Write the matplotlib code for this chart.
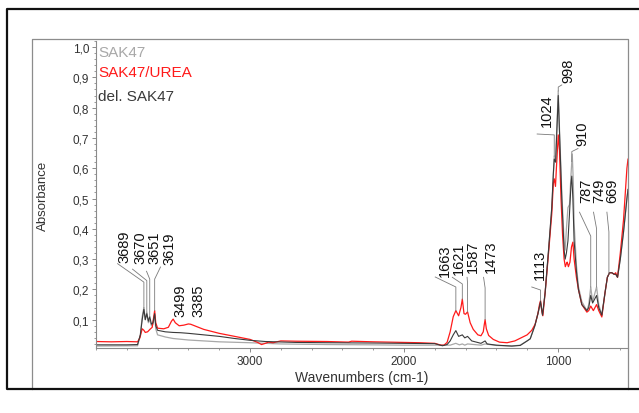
import numpy as np
import matplotlib
matplotlib.use('Agg')
import matplotlib.pyplot as plt
from matplotlib.lines import Line2D
from matplotlib.ticker import MultipleLocator, FuncFormatter

plt.rcParams['font.family'] = ['Liberation Sans', 'DejaVu Sans']

#### DATA ####
# SAK47 (light grey)
sak_wn = [4000, 3730, 3712, 3700, 3689, 3680, 3670, 3660, 3651, 3640, 3630, 3619, 3612,
          3600, 3550, 3500, 3400, 3300, 3200, 3000, 2800, 2500, 2200, 2000, 1800, 1700,
          1663, 1640, 1621, 1605, 1587, 1500, 1473, 1400, 1300, 1245, 1200, 1180, 1150,
          1130, 1113, 1100, 1083, 1061, 1040, 1030, 1024, 1015, 998, 990, 975, 960, 953,
          945, 935, 925, 915, 907, 900, 895, 880, 867, 845, 812, 800, 787, 775, 749, 735,
          715, 694, 679, 665, 650, 635, 625, 613, 595, 574, 552, 545]
sak_abs = [0.013, 0.014, 0.05, 0.11, 0.14, 0.10, 0.125, 0.09, 0.10, 0.08, 0.085, 0.115, 0.07,
           0.05, 0.043, 0.038, 0.033, 0.03, 0.027, 0.024, 0.02, 0.018, 0.017, 0.016, 0.016, 0.016,
           0.022, 0.017, 0.02, 0.016, 0.02, 0.016, 0.02, 0.015, 0.013, 0.016, 0.03, 0.037, 0.08,
           0.12, 0.155, 0.115, 0.19, 0.33, 0.47, 0.58, 0.64, 0.63, 0.855, 0.73, 0.52, 0.36, 0.33,
           0.40, 0.47, 0.48, 0.58, 0.647, 0.55, 0.42, 0.28, 0.21, 0.16, 0.13, 0.15, 0.208, 0.16,
           0.208, 0.15, 0.115, 0.19, 0.24, 0.255, 0.255, 0.25, 0.25, 0.24, 0.30, 0.39, 0.50, 0.53]

# SAK47/UREA (red)
urea_wn = [4000, 3900, 3800, 3730, 3715, 3700, 3689, 3680, 3665, 3650, 3635, 3625, 3619, 3612,
           3600, 3560, 3530, 3510, 3499, 3485, 3460, 3430, 3400, 3385, 3350, 3300, 3200, 3100,
           3000, 2950, 2925, 2900, 2880, 2850, 2800, 2700, 2500, 2360, 2340, 2200, 2000, 1900,
           1800, 1760, 1740, 1720, 1700, 1680, 1663, 1645, 1630, 1621, 1610, 1600, 1587, 1570,
           1550, 1520, 1500, 1485, 1478, 1473, 1465, 1450, 1420, 1380, 1330, 1280, 1240, 1200,
           1170, 1148, 1130, 1120, 1113, 1105, 1098, 1083, 1061, 1040, 1030, 1024, 1016, 1010,
           998, 990, 980, 970, 960, 952, 945, 940, 932, 922, 912, 903, 895, 880, 867, 845, 812,
           800, 787, 770, 749, 735, 715, 694, 679, 665, 650, 635, 625, 613, 595, 574, 552, 545]
urea_abs = [0.028, 0.027, 0.028, 0.027, 0.04, 0.07, 0.065, 0.058, 0.06, 0.068, 0.075, 0.11, 0.13, 0.09,
            0.072, 0.07, 0.075, 0.095, 0.102, 0.09, 0.08, 0.082, 0.086, 0.085, 0.078, 0.068, 0.055, 0.045,
            0.035, 0.025, 0.018, 0.022, 0.026, 0.024, 0.030, 0.029, 0.028, 0.026, 0.029, 0.027, 0.025, 0.024,
            0.022, 0.016, 0.016, 0.025, 0.06, 0.11, 0.13, 0.113, 0.14, 0.168, 0.12, 0.118, 0.126, 0.09,
            0.068, 0.05, 0.047, 0.06, 0.085, 0.10, 0.07, 0.048, 0.035, 0.026, 0.024, 0.03, 0.04, 0.05,
            0.065, 0.085, 0.12, 0.15, 0.163, 0.13, 0.113, 0.19, 0.32, 0.45, 0.55, 0.565, 0.54, 0.60,
            0.71, 0.66, 0.50, 0.38, 0.30, 0.275, 0.285, 0.29, 0.275, 0.29, 0.34, 0.356, 0.30, 0.24, 0.20, 0.15, 0.125,
            0.13, 0.145, 0.13, 0.15, 0.13, 0.109, 0.19, 0.24, 0.255, 0.255, 0.25, 0.255, 0.24, 0.32, 0.43, 0.60, 0.63]

# del. SAK47 (dark grey)
del_wn = [4000, 3800, 3730, 3712, 3700, 3689, 3680, 3670, 3660, 3651, 3640, 3630, 3619, 3612,
          3600, 3550, 3500, 3450, 3400, 3300, 3200, 3100, 3000, 2900, 2700, 2500, 2200, 2000,
          1800, 1750, 1720, 1700, 1680, 1663, 1645, 1621, 1605, 1587, 1560, 1500, 1473, 1460,
          1400, 1300, 1245, 1200, 1180, 1150, 1130, 1113, 1100, 1083, 1061, 1040, 1030, 1024,
          1015, 998, 990, 975, 960, 953, 945, 935, 925, 915, 910, 903, 895, 880, 867, 845, 812,
          800, 787, 775, 749, 735, 715, 694, 679, 665, 650, 635, 625, 613, 595, 574, 552, 545]
del_abs = [0.017, 0.017, 0.018, 0.05, 0.10, 0.135, 0.10, 0.12, 0.095, 0.11, 0.085, 0.09, 0.12, 0.08,
           0.065, 0.06, 0.058, 0.057, 0.055, 0.05, 0.045, 0.038, 0.032, 0.028, 0.025, 0.024, 0.023, 0.022,
           0.021, 0.014, 0.018, 0.03, 0.05, 0.064, 0.045, 0.05, 0.04, 0.045, 0.03, 0.022, 0.03, 0.02,
           0.016, 0.013, 0.015, 0.03, 0.037, 0.08, 0.12, 0.16, 0.115, 0.19, 0.33, 0.47, 0.58, 0.63,
           0.62, 0.84, 0.72, 0.50, 0.33, 0.30, 0.32, 0.36, 0.45, 0.55, 0.574, 0.50, 0.36, 0.26, 0.20, 0.15, 0.13,
           0.14, 0.18, 0.155, 0.18, 0.14, 0.115, 0.19, 0.24, 0.255, 0.255, 0.25, 0.25, 0.24, 0.30, 0.39, 0.50, 0.53]

# peak labels
peak_labels = ['3689', '3670', '3651', '3619', '3499', '3385', '1663', '1621', '1587', '1473',
               '1113', '1024', '998', '910', '787', '749', '669']

#### LAYOUT ####
label_x = [3812, 3711, 3620, 3523, 3454, 3335, 1735, 1643, 1550, 1435,
           1118, 1074, 935, 840, 818, 730, 645]
label_y = [0.29, 0.287, 0.287, 0.284, 0.112, 0.112, 0.244, 0.251, 0.257, 0.257,
           0.234, 0.74, 0.885, 0.677, 0.49, 0.49, 0.49]
# leader line: start x, start y, elbow y
leaders = {
    '3689': (3860, 0.285, 0.224),
    '3670': (3763, 0.267, 0.229),
    '3651': (3672, 0.26, 0.234),
    '3619': (3581, 0.274, 0.234),
    '1663': (1797, 0.241, 0.208),
    '1621': (1686, 0.24, 0.218),
    '1587': (1590, 0.24, 0.22),
    '1473': (1483, 0.24, 0.205),
    '1113': (1170, 0.208, 0.198),
    '1024': (1135, 0.713, 0.71),
    '998': (975, 0.875, 0.868),
    '910': (870, 0.665, 0.655),
    '787': (860, 0.455, 0.376),
    '749': (769, 0.455, 0.40),
    '669': (682, 0.455, 0.39),
}

W, H = 639, 414
fig = plt.figure(figsize=(W / 100, H / 100), dpi=100)
ax = fig.add_axes([96 / W, 1 - 349 / H, 532 / W, 307 / H])

c_sak = '#a8a8a8'
c_urea = '#ff1a1a'
c_del = '#3a3a3a'
ax.plot(sak_wn, sak_abs, color=c_sak, lw=0.9)
ax.plot(urea_wn, urea_abs, color=c_urea, lw=0.9)
ax.plot(del_wn, del_abs, color=c_del, lw=0.8)

ax.set_xlim(4000, 545)
ax.set_ylim(0.0066, 1.02)


def top_at(w):
    vals = []
    for xs, ys in [(sak_wn, sak_abs), (urea_wn, urea_abs), (del_wn, del_abs)]:
        vals.append(np.interp(w, xs[::-1], ys[::-1]))
    return max(vals)


for lab, lx, ly in zip(peak_labels, label_x, label_y):
    ax.text(lx, ly, lab, rotation=90, ha='center', va='bottom', fontsize=10.5, color='#111111')
    if lab in leaders:
        sx, sy, ey = leaders[lab]
        pw = float(lab)
        ax.plot([sx, pw, pw], [sy, ey, top_at(pw)], color='#7a7a7a', lw=0.6)

# legend texts
ax.text(0.004, 0.964, 'SAK47', transform=ax.transAxes, color=c_sak, fontsize=11, va='center')
ax.text(0.004, 0.899, 'SAK47/UREA', transform=ax.transAxes, color=c_urea, fontsize=11, va='center')
ax.text(0.004, 0.821, 'del. SAK47', transform=ax.transAxes, color=c_del, fontsize=11, va='center')

# axes styling
for s in ['top', 'right']:
    ax.spines[s].set_visible(False)
for s in ['left', 'bottom']:
    ax.spines[s].set_color('#8a8a8a')
    ax.spines[s].set_linewidth(0.8)
ax.set_xticks([3000, 2000, 1000])
ax.xaxis.set_minor_locator(MultipleLocator(200))
ax.set_yticks(np.arange(0.1, 1.01, 0.1))
ax.yaxis.set_minor_locator(MultipleLocator(0.02))
ax.yaxis.set_major_formatter(FuncFormatter(lambda v, p: f'{v:.1f}'.replace('.', ',')))
ax.tick_params(which='major', direction='out', length=3, width=0.7, color='#8a8a8a',
               labelsize=8.5, labelcolor='#333333', pad=2)
ax.tick_params(which='minor', direction='out', length=1.5, width=0.6, color='#8a8a8a')

ax.text(-0.0996, 0.5, 'Absorbance', transform=ax.transAxes, rotation=90,
        ha='center', va='center', fontsize=9.5, color='#333333')
ax.text(0.5, -0.0945, 'Wavenumbers (cm-1)', transform=ax.transAxes,
        ha='center', va='center', fontsize=10, color='#333333')


# panel and outer frame
def fx(px):
    return px / W


def fy(py):
    return 1 - py / H


fig.add_artist(Line2D([fx(32), fx(32), fx(628), fx(628)], [fy(390), fy(40), fy(40), fy(390)],
                      color='#8c8c8c', lw=0.9))
fig.add_artist(Line2D([fx(639), fx(7), fx(7), fx(639)], [fy(10), fy(10), fy(390), fy(390)],
                      color='#111111', lw=1.6))

fig.savefig('out.png', dpi=100)
